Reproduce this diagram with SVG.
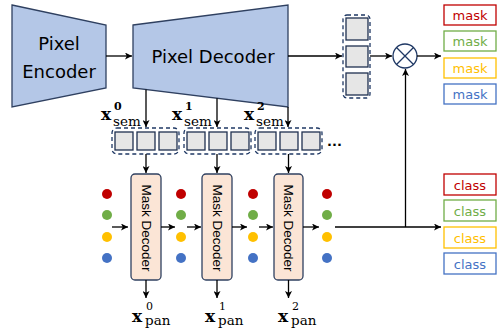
<svg xmlns="http://www.w3.org/2000/svg" width="497" height="331" viewBox="0 0 497 331">
<defs>
<marker id="ah" viewBox="0 0 10 10" refX="10" refY="5" markerWidth="7" markerHeight="7" markerUnits="userSpaceOnUse" orient="auto">
<path d="M0,0 L10,5 L0,10 L2.5,5 Z" fill="#000"/>
</marker>
<style>
.trap{fill:#b4c7e7;stroke:#2f4060;stroke-width:1.3}
.big{font-family:"DejaVu Sans","Liberation Sans",sans-serif;font-size:18px;fill:#000;text-anchor:middle}
.sq{fill:#e6e6e6;stroke:#1f3050;stroke-width:1.3}
.dash{fill:none;stroke:#1f3864;stroke-width:1.3;stroke-dasharray:4 3}
.md{fill:#fbe5d6;stroke:#2f4060;stroke-width:1.3}
.mdt{font-family:"Liberation Sans",sans-serif;font-size:13.5px;fill:#000;text-anchor:middle;dominant-baseline:central}
.ln{fill:none;stroke:#000;stroke-width:1.3}
.arr{fill:none;stroke:#000;stroke-width:1.3;marker-end:url(#ah)}
.lbl{font-family:"DejaVu Sans","Liberation Sans",sans-serif;font-size:13px;text-anchor:middle}
.xb{font-family:"DejaVu Serif","Liberation Serif",serif;font-weight:bold;font-size:17px;fill:#000}
.sub{font-family:"DejaVu Serif","Liberation Serif",serif;font-size:13.5px;fill:#000}
.supb{font-family:"DejaVu Serif","Liberation Serif",serif;font-weight:bold;font-size:11px;fill:#000}
.sup{font-family:"DejaVu Serif","Liberation Serif",serif;font-size:11px;fill:#000}
.r{fill:#c00000}.g{fill:#70ad47}.y{fill:#ffc000}.b{fill:#4472c4}
</style>
</defs>

<g id="pixel-encoder">
<polygon class="trap" points="12,5 106,25 106,88 12,107"/>
<text class="big" x="59" y="50">Pixel</text>
<text class="big" x="59" y="78">Encoder</text>
</g>

<g id="pixel-decoder">
<polygon class="trap" points="133,25 288,5 288,107 133,88"/>
<text class="big" x="213" y="63">Pixel Decoder</text>
</g>

<g id="query-column">
<rect class="dash" x="343" y="15" width="27" height="83" rx="4"/>
<rect class="sq" x="346" y="18" width="22" height="22"/>
<rect class="sq" x="346" y="46" width="22" height="21"/>
<rect class="sq" x="346" y="73" width="22" height="22"/>
</g>

<g id="multiply">
<circle cx="405" cy="56" r="12" fill="#fff" stroke="#1f3864" stroke-width="1.3"/>
<path d="M396.5,47.5 L413.5,64.5 M413.5,47.5 L396.5,64.5" stroke="#1f3864" stroke-width="1.3"/>
</g>

<g id="mask-outputs">
<rect x="444" y="5" width="52" height="20" fill="#fff" stroke="#c00000" stroke-width="1.3"/>
<text class="lbl r" x="470" y="20">mask</text>
<rect x="444" y="31" width="52" height="20" fill="#fff" stroke="#70ad47" stroke-width="1.3"/>
<text class="lbl g" x="470" y="46">mask</text>
<rect x="444" y="58" width="52" height="20" fill="#fff" stroke="#ffc000" stroke-width="1.3"/>
<text class="lbl y" x="470" y="73">mask</text>
<rect x="444" y="84" width="52" height="20" fill="#fff" stroke="#4472c4" stroke-width="1.3"/>
<text class="lbl b" x="470" y="99">mask</text>
</g>

<g id="class-outputs">
<rect x="444" y="174" width="52" height="21" fill="#fff" stroke="#c00000" stroke-width="1.3"/>
<text class="lbl r" x="470" y="189.5">class</text>
<rect x="444" y="200" width="52" height="21" fill="#fff" stroke="#70ad47" stroke-width="1.3"/>
<text class="lbl g" x="470" y="215.5">class</text>
<rect x="444" y="227" width="52" height="21" fill="#fff" stroke="#ffc000" stroke-width="1.3"/>
<text class="lbl y" x="470" y="242.5">class</text>
<rect x="444" y="253" width="52" height="21" fill="#fff" stroke="#4472c4" stroke-width="1.3"/>
<text class="lbl b" x="470" y="268.5">class</text>
</g>

<g id="sem-features">
<rect class="dash" x="112" y="128" width="67" height="26" rx="5"/>
<rect class="sq" x="115" y="132" width="18" height="18"/>
<rect class="sq" x="137" y="132" width="18" height="18"/>
<rect class="sq" x="159" y="132" width="18" height="18"/>
<rect class="dash" x="184" y="128" width="67" height="26" rx="5"/>
<rect class="sq" x="187" y="132" width="18" height="18"/>
<rect class="sq" x="209" y="132" width="18" height="18"/>
<rect class="sq" x="231" y="132" width="18" height="18"/>
<rect class="dash" x="255" y="128" width="67" height="26" rx="5"/>
<rect class="sq" x="258" y="132" width="18" height="18"/>
<rect class="sq" x="280" y="132" width="18" height="18"/>
<rect class="sq" x="302" y="132" width="18" height="18"/>
<text x="327" y="146" font-family="DejaVu Sans,sans-serif" font-size="13" font-weight="bold">...</text>
</g>

<g id="sem-labels">
<text class="xb" x="101" y="120">x</text><text class="supb" x="114" y="110">0</text><text class="sub" x="113" y="126">sem</text>
<text class="xb" x="172" y="120">x</text><text class="supb" x="185" y="110">1</text><text class="sub" x="184" y="126">sem</text>
<text class="xb" x="244" y="120">x</text><text class="supb" x="257" y="110">2</text><text class="sub" x="256" y="126">sem</text>
</g>

<g id="mask-decoder-0">
<rect class="md" x="131" y="174" width="30" height="106" rx="4"/>
<text class="mdt" transform="translate(146,228) rotate(90)">Mask Decoder</text>
</g>
<g id="mask-decoder-1">
<rect class="md" x="202" y="174" width="30" height="106" rx="4"/>
<text class="mdt" transform="translate(217,228) rotate(90)">Mask Decoder</text>
</g>
<g id="mask-decoder-2">
<rect class="md" x="274" y="174" width="29" height="106" rx="4"/>
<text class="mdt" transform="translate(288.5,228) rotate(90)">Mask Decoder</text>
</g>

<g id="queries">
<circle class="r" cx="107" cy="194" r="5"/><circle class="g" cx="107" cy="215" r="5"/><circle class="y" cx="107" cy="237" r="5"/><circle class="b" cx="107" cy="258" r="5"/>
<circle class="r" cx="181" cy="194" r="5"/><circle class="g" cx="181" cy="215" r="5"/><circle class="y" cx="181" cy="237" r="5"/><circle class="b" cx="181" cy="258" r="5"/>
<circle class="r" cx="253" cy="194" r="5"/><circle class="g" cx="253" cy="215" r="5"/><circle class="y" cx="253" cy="237" r="5"/><circle class="b" cx="253" cy="258" r="5"/>
<circle class="r" cx="327" cy="194" r="5"/><circle class="g" cx="327" cy="215" r="5"/><circle class="y" cx="327" cy="237" r="5"/><circle class="b" cx="327" cy="258" r="5"/>
</g>

<g id="pan-labels">
<text class="xb" x="132" y="322">x</text><text class="sup" x="146" y="310">0</text><text class="sub" x="145" y="325">pan</text>
<text class="xb" x="205" y="322">x</text><text class="sup" x="219" y="310">1</text><text class="sub" x="218" y="325">pan</text>
<text class="xb" x="278" y="322">x</text><text class="sup" x="292" y="310">2</text><text class="sub" x="291" y="325">pan</text>
</g>

<g id="connectors">
<line class="arr" x1="106" y1="56" x2="132" y2="56"/>
<line class="arr" x1="288" y1="56" x2="342" y2="56"/>
<line class="arr" x1="370" y1="56" x2="392" y2="56"/>
<line class="arr" x1="417" y1="56" x2="441" y2="56"/>
<line class="arr" x1="146" y1="89.6" x2="146" y2="127"/>
<line class="arr" x1="217" y1="98.3" x2="217" y2="127"/>
<line class="arr" x1="288" y1="107" x2="288" y2="127"/>
<line class="arr" x1="146" y1="154" x2="146" y2="173"/>
<line class="arr" x1="217" y1="154" x2="217" y2="173"/>
<line class="arr" x1="288.5" y1="154" x2="288.5" y2="173"/>
<line class="arr" x1="112" y1="227" x2="128" y2="227"/>
<line class="arr" x1="161" y1="227" x2="175" y2="227"/>
<line class="arr" x1="187" y1="227" x2="201" y2="227"/>
<line class="arr" x1="232" y1="227" x2="247" y2="227"/>
<line class="arr" x1="259" y1="227" x2="273" y2="227"/>
<line class="arr" x1="303" y1="227" x2="319" y2="227"/>
<line class="arr" x1="335" y1="227" x2="441" y2="227"/>
<line class="arr" x1="405.5" y1="227" x2="405.5" y2="69"/>
<line class="arr" x1="146" y1="280" x2="146" y2="298"/>
<line class="arr" x1="217" y1="280" x2="217" y2="298"/>
<line class="arr" x1="288.5" y1="280" x2="288.5" y2="298"/>
</g>
</svg>
